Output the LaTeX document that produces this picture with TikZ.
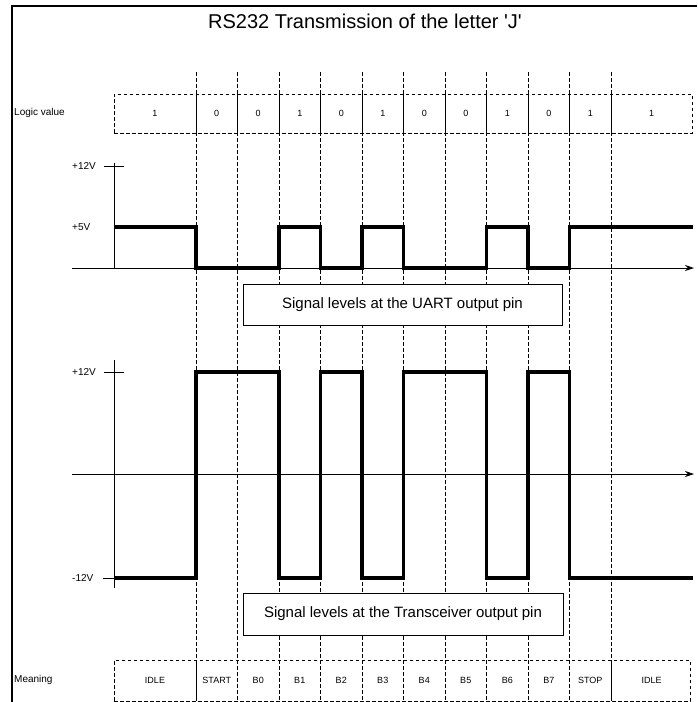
\documentclass[tikz,border=0pt]{standalone}
\usepackage{fontspec}
\setmainfont[Ligatures=TeXOff]{Liberation Sans}
\usepackage{tikz}
\usetikzlibrary{arrows.meta, positioning}

\begin{document}
\begin{tikzpicture}[
    x=1pt, y=-1pt,
    frame/.style={line width=1.4pt},
    guide/.style={line width=0.7pt, dash pattern=on 3.5pt off 2.5pt},
    row/.style={rectangle, draw, line width=0.7pt, dash pattern=on 3.5pt off 2.5pt, inner sep=0pt},
    cell/.style={font=\fontsize{9}{10}\selectfont},
    tag/.style={anchor=west, inner sep=0pt, font=\fontsize{10}{12}\selectfont},
    caption/.style={rectangle, draw, fill=white, line width=0.8pt, inner sep=0pt, font=\fontsize{15}{18}\selectfont},
    axis/.style={line width=0.8pt},
    arrow/.style={axis, -{Stealth[length=9pt, width=6pt]}},
    signal/.style={line width=3.2pt}
]
    \useasboundingbox (0,0) rectangle (697,702);

    % Frame and title
    \draw [frame] (12,702) |- (697,6);
    \node (title) at (365,21) [font=\fontsize{20}{24}\selectfont] {RS232 Transmission of the letter 'J'};

    % Bit boundaries
    \draw [guide] (196,72) -- (196,702);
    \draw [guide] (237.5,72) -- (237.5,702);
    \draw [guide] (279,72) -- (279,702);
    \draw [guide] (320.5,72) -- (320.5,702);
    \draw [guide] (362,72) -- (362,702);
    \draw [guide] (403.5,72) -- (403.5,702);
    \draw [guide] (445,72) -- (445,702);
    \draw [guide] (486.5,72) -- (486.5,702);
    \draw [guide] (528,72) -- (528,702);
    \draw [guide] (569.5,72) -- (569.5,702);
    \draw [guide] (611,72) -- (611,702);

    % Logic values
    \node (logicrow) [row, fill=white, minimum width=578pt, minimum height=39pt] at (403,113.5) {};
    \node (logictag) [tag] at (14,113) {Logic value};
    \draw [axis] (196,94) -- (196,133);
    \draw [axis] (237.5,94) -- (237.5,133);
    \draw [axis] (279,94) -- (279,133);
    \draw [axis] (320.5,94) -- (320.5,133);
    \draw [axis] (362,94) -- (362,133);
    \draw [axis] (403.5,94) -- (403.5,133);
    \draw [axis] (445,94) -- (445,133);
    \draw [axis] (486.5,94) -- (486.5,133);
    \draw [axis] (528,94) -- (528,133);
    \draw [axis] (569.5,94) -- (569.5,133);
    \draw [axis] (611,94) -- (611,133);
    \node (lidle) [cell] at (155,113.5) {1};
    \node (lstart) [cell] at (216.75,113.5) {0};
    \node (lb0) [cell] at (258.25,113.5) {0};
    \node (lb1) [cell] at (299.75,113.5) {1};
    \node (lb2) [cell] at (341.25,113.5) {0};
    \node (lb3) [cell] at (382.75,113.5) {1};
    \node (lb4) [cell] at (424.25,113.5) {0};
    \node (lb5) [cell] at (465.75,113.5) {0};
    \node (lb6) [cell] at (507.25,113.5) {1};
    \node (lb7) [cell] at (548.75,113.5) {0};
    \node (lstop) [cell] at (590.25,113.5) {1};
    \node (lrest) [cell] at (651.5,113.5) {1};

    % UART output
    \coordinate (uorigin) at (114,268);
    \coordinate (utop) at (114,163);
    \coordinate (ustart) at (72,268);
    \coordinate (uend) at (694,268);
    \draw [axis] (uorigin) -- (utop);
    \draw [arrow] (ustart) -- (uend);
    \draw [axis] (104,166) -- (124,166);
    \node (uhi) [tag] at (72,166) {+12V};
    \node (umid) [tag] at (72,227) {+5V};
    \draw [signal] (114,227) -| (196,268) -| (279,227) -| (320.5,268) -| (362,227) -| (403.5,268) -| (486.5,227) -| (528,268) -| (569.5,227) -- (693,227);
    \node (uartcap) [caption, minimum width=319pt, minimum height=41pt] at (402.5,304.5) {Signal levels at the UART output pin};

    % Transceiver output
    \coordinate (ttop) at (114,360);
    \coordinate (tbottom) at (114,588);
    \coordinate (tstart) at (72,474);
    \coordinate (tend) at (694,474);
    \draw [axis] (ttop) -- (tbottom);
    \draw [arrow] (tstart) -- (tend);
    \draw [axis] (104,372) -- (124,372);
    \draw [axis] (103,578) -- (114,578);
    \node (thi) [tag] at (72,372) {+12V};
    \node (tlo) [tag] at (72,578) {-12V};
    \draw [signal] (114,578) -| (196,372) -| (279,578) -| (320.5,372) -| (362,578) -| (403.5,372) -| (486.5,578) -| (528,372) -| (569.5,578) -- (693,578);
    \node (txcap) [caption, minimum width=320pt, minimum height=42pt] at (403,614) {Signal levels at the Transceiver output pin};

    % Meaning
    \node (meaningrow) [row, minimum width=576pt, minimum height=41pt] at (402,680.5) {};
    \node (meaningtag) [tag] at (14,680) {Meaning};
    \draw [axis] (196,660) -- (196,701);
    \draw [axis] (611,660) -- (611,701);
    \node (midle) [cell] at (155,680.5) {IDLE};
    \node (mstart) [cell] at (216.75,680.5) {START};
    \node (mb0) [cell] at (258.25,680.5) {B0};
    \node (mb1) [cell] at (299.75,680.5) {B1};
    \node (mb2) [cell] at (341.25,680.5) {B2};
    \node (mb3) [cell] at (382.75,680.5) {B3};
    \node (mb4) [cell] at (424.25,680.5) {B4};
    \node (mb5) [cell] at (465.75,680.5) {B5};
    \node (mb6) [cell] at (507.25,680.5) {B6};
    \node (mb7) [cell] at (548.75,680.5) {B7};
    \node (mstop) [cell] at (590.25,680.5) {STOP};
    \node (mrest) [cell] at (651.5,680.5) {IDLE};
\end{tikzpicture}
\end{document}
